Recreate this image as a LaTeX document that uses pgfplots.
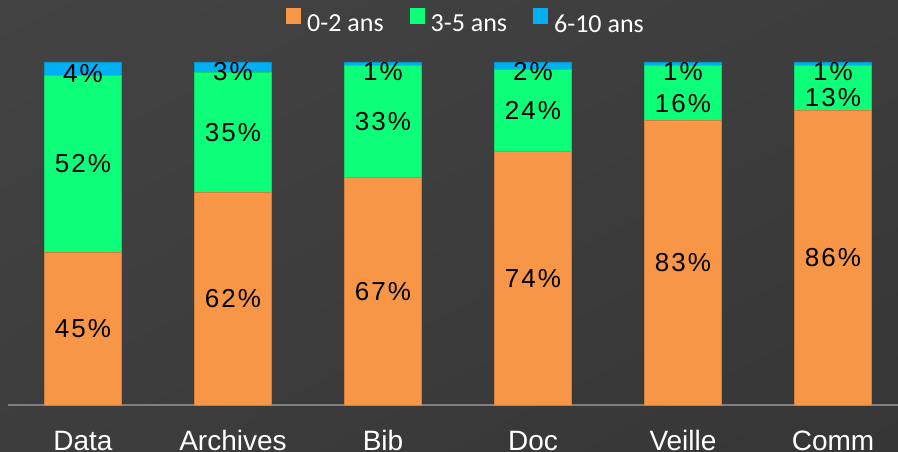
\documentclass[border=0pt]{standalone}
\usepackage{pgfplots}
\pgfplotsset{compat=1.18}
\usepackage{pgfplotstable}
\usetikzlibrary{shadings}
\usepackage{fontspec}
\setmainfont{Liberation Sans}
\newfontfamily\labfont[LetterSpace=8]{Liberation Sans}
\newfontfamily\legfont{Carlito}
\definecolor{bgA}{HTML}{434343}
\definecolor{bgB}{HTML}{3D3D3D}
\definecolor{bgC}{HTML}{363636}
\definecolor{cOr}{HTML}{F79646}
\definecolor{cGr}{HTML}{0DFF7A}
\definecolor{cBl}{HTML}{00B0F0}
\definecolor{axl}{HTML}{808080}

% dy: downward offset of the data label (pt)
\pgfplotstableread{
x y lab dy
0 44.55 45 0
1 62 62 0
2 66.34 67 0
3 74 74 0
4 83 83 0
5 86 86 0
}\tOr
\pgfplotstableread{
x y lab dy
0 51.49 52 0
1 35 35 0
2 32.67 33 0
3 24 24 0
4 16 16 11
5 13 13 10
}\tGr
\pgfplotstableread{
x y lab dy
0 3.96 4 5
1 3 3 4
2 0.99 1 8
3 2 2 6.5
4 1 1 7.5
5 1 1 7.5
}\tBl

\begin{document}
\begin{tikzpicture}
\shade[upper left=bgA, upper right=bgB, lower left=bgB, lower right=bgC] (-8pt,-47pt) rectangle (890pt,405pt);
\begin{axis}[
  scale only axis, width=890pt, height=343pt,
  at={(0,0)}, anchor=south west,
  xmin=-0.5, xmax=5.4333, ymin=0, ymax=100,
  ybar stacked, bar width=77pt,
  separate axis lines,
  axis x line*=bottom, axis y line=none,
  x axis line style={draw=axl, line width=1.5pt},
  xtick={0,...,5}, xticklabels={Data,Archives,Bib,Doc,Veille,Comm},
  major tick length=0pt, ytick=\empty,
  xticklabel style={font=\fontsize{28}{30}\selectfont, text=white, anchor=base, yshift=-46pt},
  clip=false,
  point meta=explicit,
  /pgf/number format/assume math mode=true,
  nodes near coords={\pgfmathprintnumber{\pgfplotspointmeta}\%},
  visualization depends on={\thisrow{dy} \as \dy},
  every node near coord/.append style={anchor=center, yshift=-\dy pt, font=\labfont\fontsize{26}{30}\selectfont, text=black},
  legend columns=3,
  legend image code/.code={\fill[#1,draw=none] (0pt,0pt) rectangle (15pt,16pt);},
  legend style={at={(0.5135,1.1195)}, anchor=center, draw=none, fill=none, text=white,
    font=\legfont\fontsize{26}{30}\selectfont, inner sep=0pt, nodes={inner sep=0pt},
    /tikz/every odd column/.append style={column sep=6pt},
    /tikz/every even column/.append style={column sep=26pt}},
]
\addplot[fill=cOr, draw=cOr!85!black, line width=0.5pt] table[x=x,y=y,meta=lab] {\tOr};
\addplot[fill=cGr, draw=cGr!85!black, line width=0.5pt] table[x=x,y=y,meta=lab] {\tGr};
\addplot[fill=cBl, draw=cBl!85!black, line width=0.5pt] table[x=x,y=y,meta=lab] {\tBl};
\legend{0-2 ans, 3-5 ans, 6-10 ans}
\end{axis}
\pgfresetboundingbox
\path (-8pt,-47pt) rectangle (890pt,405pt);
\end{tikzpicture}
\end{document}
